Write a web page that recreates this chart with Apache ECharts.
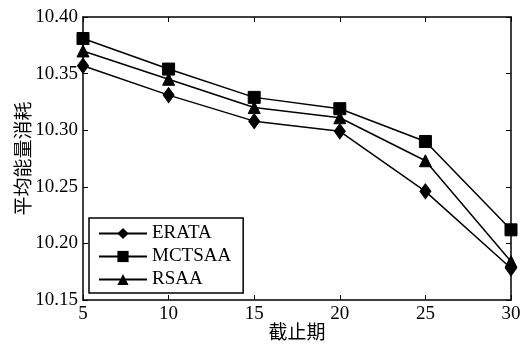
<!DOCTYPE html>
<html>
<head>
<meta charset="utf-8">
<script src="https://cdn.jsdelivr.net/npm/echarts@6/dist/echarts.min.js"></script>
<style>
html,body{margin:0;padding:0;background:#fff;}
#chart{width:522px;height:349px;}
</style>
</head>
<body>
<div id="chart"></div>
<script>
// Deadlines on the x axis
const deadlines = [5, 10, 15, 20, 25, 30];
// Average energy consumption per algorithm
const erata  = [10.357, 10.331, 10.308, 10.299, 10.246, 10.178];
const mctsaa = [10.381, 10.354, 10.329, 10.319, 10.290, 10.212];
const rsaa   = [10.370, 10.345, 10.320, 10.311, 10.273, 10.184];
const yTicks = [10.15, 10.20, 10.25, 10.30, 10.35, 10.40];

const serif = '"Liberation Serif", "Times New Roman", serif';
const cjk = '"Noto Sans CJK SC", sans-serif';

function pairs(vals) { return deadlines.map((d, i) => [d, vals[i]]); }

function makeSeries(name, vals, symbol, size) {
  return {
    name: name,
    type: 'line',
    data: pairs(vals),
    symbol: symbol,
    symbolSize: size,
    showAllSymbol: true,
    lineStyle: { color: '#000', width: 1.5 },
    itemStyle: { color: '#000', borderColor: '#000' },
    animation: false
  };
}

const chart = echarts.init(document.getElementById('chart'));
chart.setOption({
  backgroundColor: '#fff',
  animation: false,
  grid: { left: 83, right: 11, top: 17, bottom: 49, containLabel: false, outerBoundsMode: 'none' },
  xAxis: [{
    type: 'value', min: 5, max: 30, interval: 5,
    name: '截止期', nameLocation: 'middle', nameGap: 22, nameMoveOverlap: false,
    nameTextStyle: { fontFamily: cjk, fontSize: 19, color: '#000' },
    axisLine: { lineStyle: { color: '#000', width: 1.5 } },
    axisTick: { inside: true, length: 5, lineStyle: { color: '#000' } },
    axisLabel: { fontFamily: serif, fontSize: 19, color: '#000', margin: 5 },
    splitLine: { show: false }
  }, {
    type: 'value', min: 5, max: 30, interval: 5, position: 'top',
    axisLine: { show: true, onZero: false, lineStyle: { color: '#000', width: 1.5 } },
    axisTick: { inside: true, length: 5, lineStyle: { color: '#000' } },
    axisLabel: { show: false }, splitLine: { show: false }
  }],
  yAxis: [{
    type: 'value', min: yTicks[0], max: yTicks[yTicks.length - 1], interval: 0.05,
    name: '平均能量消耗', nameLocation: 'middle', nameGap: 51, nameRotate: 90, nameMoveOverlap: false,
    nameTextStyle: { fontFamily: cjk, fontSize: 19, color: '#000' },
    axisLine: { lineStyle: { color: '#000', width: 1.5 } },
    axisTick: { inside: true, length: 5, lineStyle: { color: '#000' } },
    axisLabel: { fontFamily: serif, fontSize: 19, color: '#000', margin: 5,
      formatter: v => v.toFixed(2) },
    splitLine: { show: false }
  }, {
    type: 'value', min: yTicks[0], max: yTicks[yTicks.length - 1], interval: 0.05, position: 'right',
    axisLine: { show: true, onZero: false, lineStyle: { color: '#000', width: 1.5 } },
    axisTick: { inside: true, length: 5, lineStyle: { color: '#000' } },
    axisLabel: { show: false }, splitLine: { show: false }
  }],
  legend: {
    orient: 'vertical', left: 89, top: 218,
    backgroundColor: '#fff',
    borderColor: '#000', borderWidth: 1.5, borderRadius: 0,
    padding: [6, 12, 4, 9],
    itemWidth: 48, itemHeight: 14, itemGap: 4,
    textStyle: { fontFamily: serif, fontSize: 19, color: '#000' },
    data: ['ERATA', 'MCTSAA', 'RSAA']
  },
  series: [
    makeSeries('ERATA', erata, 'diamond', [11, 15]),
    makeSeries('MCTSAA', mctsaa, 'rect', 12),
    makeSeries('RSAA', rsaa, 'triangle', 12)
  ]
});
</script>
</body>
</html>
